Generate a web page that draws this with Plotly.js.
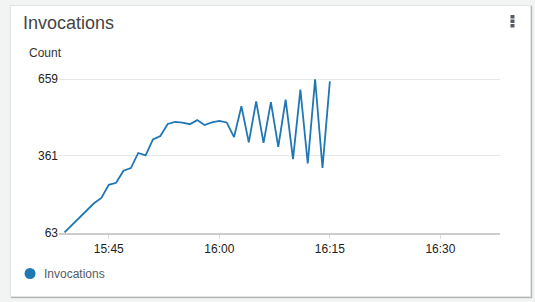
<!DOCTYPE html>
<html>
<head>
<meta charset="utf-8">
<script src="https://cdn.plot.ly/plotly-3.0.1.min.js"></script>
<style>
  html, body { margin: 0; padding: 0; background: #f2f3f3; width: 535px; height: 302px; overflow: hidden; }
  #card { position: absolute; left: 10px; top: 5px; width: 519px; height: 290px; background: #fff;
          border: 1px solid #e3e3e3; box-shadow: 1px 1px 1px rgba(0,0,0,0.25); }
  #chart { position: absolute; left: 0; top: 0; width: 535px; height: 302px; }
</style>
</head>
<body>
<div id="card"></div>
<div id="chart"></div>
<script>
// ---- data ----
const times = [
  "2024-01-01 15:39","2024-01-01 15:40","2024-01-01 15:41","2024-01-01 15:42","2024-01-01 15:43",
  "2024-01-01 15:44","2024-01-01 15:45","2024-01-01 15:46","2024-01-01 15:47","2024-01-01 15:48",
  "2024-01-01 15:49","2024-01-01 15:50","2024-01-01 15:51","2024-01-01 15:52","2024-01-01 15:53",
  "2024-01-01 15:54","2024-01-01 15:55","2024-01-01 15:56","2024-01-01 15:57","2024-01-01 15:58",
  "2024-01-01 15:59","2024-01-01 16:00","2024-01-01 16:01","2024-01-01 16:02","2024-01-01 16:03",
  "2024-01-01 16:04","2024-01-01 16:05","2024-01-01 16:06","2024-01-01 16:07","2024-01-01 16:08",
  "2024-01-01 16:09","2024-01-01 16:10","2024-01-01 16:11","2024-01-01 16:12","2024-01-01 16:13",
  "2024-01-01 16:14","2024-01-01 16:15"
];
const invocations = [
  63, 91, 119, 146, 176, 197, 248, 256, 303, 313,
  372, 363, 425, 438, 485, 493, 490, 484, 500, 481,
  491, 497, 491, 434, 554, 413, 573, 411, 570, 396,
  580, 348, 619, 331, 659, 314, 651
];
const yTickVals = [63, 361, 659];
const yTickText = ["63", "361", "659"];
const xTickVals = ["2024-01-01 15:45", "2024-01-01 16:00", "2024-01-01 16:15", "2024-01-01 16:30"];
const xTickText = ["15:45", "16:00", "16:15", "16:30"];
const seriesName = "Invocations";
const chartTitle = "Invocations";
const yUnit = "Count";

// ---- layout geometry (pixels) ----
const W = 535, H = 302;
const L = 58.5, R = 500, T = 78, B = 233;
const pw = R - L, ph = B - T;
const px = x => (x - L) / pw;
const py = y => 1 - (y - T) / ph;

const font = "Liberation Sans, Arial, sans-serif";
const blue = "#1f77b4";

const trace = {
  x: times, y: invocations, type: "scatter", mode: "lines", name: seriesName,
  line: { color: blue, width: 1.8 }, hoverinfo: "x+y", showlegend: false
};

const shapes = [
  // legend swatch
  { type: "circle", xref: "paper", yref: "paper", x0: px(24), x1: px(35), y0: py(268), y1: py(279),
    fillcolor: blue, line: { width: 0 } },
  // kebab menu dots
  { type: "rect", xref: "paper", yref: "paper", x0: px(510.5), x1: px(514.5), y0: py(15), y1: py(18.5), fillcolor: "#545b64", line: { width: 0 } },
  { type: "rect", xref: "paper", yref: "paper", x0: px(510.5), x1: px(514.5), y0: py(19.5), y1: py(23), fillcolor: "#545b64", line: { width: 0 } },
  { type: "rect", xref: "paper", yref: "paper", x0: px(510.5), x1: px(514.5), y0: py(24), y1: py(27.5), fillcolor: "#545b64", line: { width: 0 } }
];

const annotations = [
  { text: yUnit, xref: "paper", yref: "paper", x: px(26), y: py(53), xanchor: "left", yanchor: "middle",
    showarrow: false, font: { family: font, size: 12, color: "#333" } },
  { text: seriesName, xref: "paper", yref: "paper", x: px(41), y: py(273.5), xanchor: "left", yanchor: "middle",
    showarrow: false, font: { family: font, size: 12, color: "#545b64" } }
];

const layout = {
  width: W, height: H,
  margin: { l: L, r: W - R, t: T, b: H - B, pad: 0 },
  paper_bgcolor: "rgba(0,0,0,0)", plot_bgcolor: "rgba(0,0,0,0)",
  title: { text: chartTitle, x: 23 / W, xanchor: "left", y: 1 - 22.5 / H, yanchor: "middle",
           font: { family: font, size: 18, color: "#444" } },
  showlegend: false,
  xaxis: {
    type: "date",
    range: ["2024-01-01 15:38:15", "2024-01-01 16:38:05"],
    tickvals: xTickVals, ticktext: xTickText,
    showgrid: false, zeroline: false,
    showline: true, linecolor: "#cccccc", linewidth: 2,
    ticks: "outside", ticklen: 4, tickcolor: "#dddddd", tickwidth: 1,
    tickfont: { family: font, size: 12, color: "#222" }
  },
  yaxis: {
    range: [60.3, 664],
    tickvals: yTickVals, ticktext: yTickText,
    showgrid: true, gridcolor: "#e8e8e8", gridwidth: 1,
    zeroline: false, showline: false, ticks: "",
    tickfont: { family: font, size: 12, color: "#222" }
  },
  shapes: shapes,
  annotations: annotations,
  font: { family: font }
};

Plotly.newPlot("chart", [trace], layout, { displayModeBar: false, staticPlot: true });
</script>
</body>
</html>
